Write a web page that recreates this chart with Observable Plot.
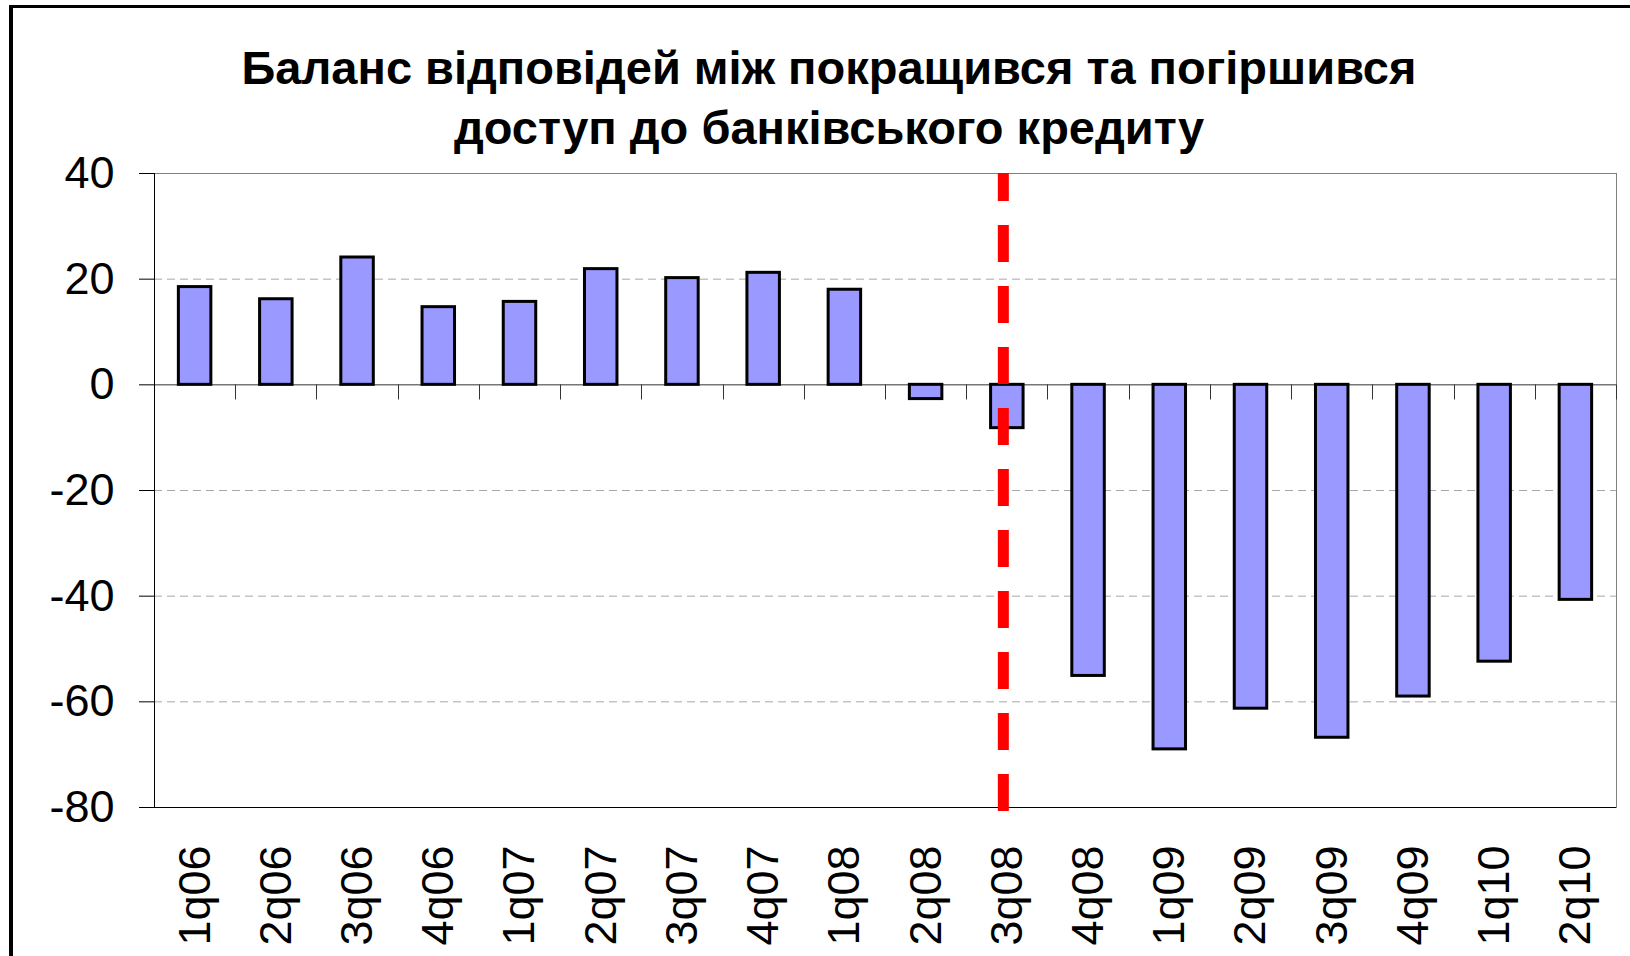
<!DOCTYPE html>
<html>
<head>
<meta charset="utf-8">
<script src="https://cdn.jsdelivr.net/npm/d3@7"></script>
<script src="https://cdn.jsdelivr.net/npm/@observablehq/plot@0.6"></script>
<style>
html, body { margin: 0; padding: 0; background: #fff; overflow: hidden; width: 1630px; height: 956px; }
#frame { position: absolute; left: 9px; top: 5px; width: 1700px; height: 1100px; border-left: 4px solid #000; border-top: 3px solid #000; box-sizing: border-box; }
#chart { position: absolute; left: 0; top: 0; }
#title { position: absolute; left: 0; top: 37.7px; width: 1658px; text-align: center; font: bold 47px "Liberation Sans", Arial, sans-serif; line-height: 60px; color: #000; }
</style>
</head>
<body>
<div id="frame"></div>
<div id="chart"></div>
<div id="title">Баланс відповідей між покращився та погіршився<br>доступ до банківського кредиту</div>
<script>
// ---- data ----
const quarters = ["1q06","2q06","3q06","4q06","1q07","2q07","3q07","4q07","1q08","2q08","3q08","4q08","1q09","2q09","3q09","4q09","1q10","2q10"];
const balance = [18.5, 16.2, 24.1, 14.7, 15.7, 21.9, 20.2, 21.2, 18.0, -2.7, -8.2, -55.1, -69.0, -61.3, -66.8, -59.0, -52.4, -40.7];
const yTicks = [40, 20, 0, -20, -40, -60, -80];
const gridValues = [40, 20, -20, -40, -60];
const markerQuarter = "3q08";
const markerTop = 40;
const markerBottom = -81.3;

const data = quarters.map((q, i) => ({q, v: balance[i]}));
const marker = [{q: markerQuarter, top: markerTop, bottom: markerBottom}];

function categoryTicks(index, scales, values, dims) {
  const {x, y} = scales;
  const g = d3.create("svg:g").attr("fill", "none");
  const half = (x.step() - x.bandwidth()) / 2;
  const y0 = Math.round(y(0)) + 0.5;
  for (let i = 1; i <= quarters.length; i++) {
    const xb = i < quarters.length ? x(quarters[i]) - half : x(quarters[i - 1]) + x.bandwidth() + half;
    const xr = Math.round(xb) + 0.5;
    g.append("line").attr("x1", xr).attr("x2", xr).attr("y1", y0).attr("y2", y0 + 15).attr("stroke", "#333");
  }
  const xl = Math.round(dims.marginLeft) + 0.5;
  g.append("line").attr("x1", xl).attr("x2", xl)
    .attr("y1", dims.marginTop).attr("y2", dims.height - dims.marginBottom).attr("stroke", "#000");
  return g.node();
}

const chart = Plot.plot({
  width: 1630,
  height: 956,
  marginTop: 173,
  marginBottom: 149,
  marginLeft: 154,
  marginRight: 14,
  style: {fontFamily: "'Liberation Sans', Arial, sans-serif", fontSize: "45px", color: "#000", background: "transparent"},
  x: {type: "band", domain: quarters, paddingInner: 0.6, paddingOuter: 0.3, round: false,
      axis: "bottom", tickSize: 0, tickRotate: -90, tickPadding: 38, label: null},
  y: {domain: [-80, 40], ticks: yTicks, tickSize: 15, tickPadding: 25, tickFormat: d => String(d), label: null},
  marks: [
    Plot.ruleY(gridValues, {stroke: "#a8a8a8", strokeDasharray: "8,5"}),
    Plot.frame({stroke: "#808080"}),
    Plot.ruleY([-80], {stroke: "#000"}),
    Plot.ruleY([0], {stroke: "#333"}),
    categoryTicks,
    Plot.barY(data, {x: "q", y: "v", fill: "#9999ff", stroke: "#000", strokeWidth: 3}),
    Plot.ruleX(marker, {x: "q", y1: "top", y2: "bottom", stroke: "#ff0000", strokeWidth: 11,
      strokeDasharray: "37,24", strokeDashoffset: 9, dx: -4})
  ]
});
document.getElementById("chart").appendChild(chart);
</script>
</body>
</html>
